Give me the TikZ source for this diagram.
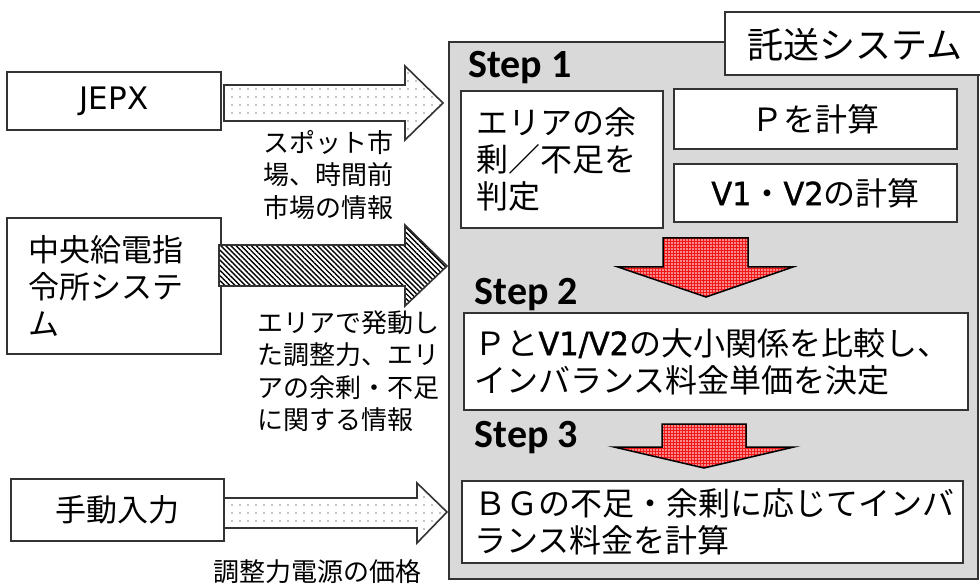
\documentclass[tikz,border=0pt]{standalone}
\usepackage{fontspec}
\setmainfont{Noto Sans CJK JP}
\newfontfamily\lat{DejaVu Sans}
\newfontfamily\latb{DejaVu Sans}[FakeStretch=0.95,FakeBold=1.2]
\newfontfamily\calib{Carlito}
\usetikzlibrary{patterns.meta,calc}
\definecolor{bggray}{HTML}{D9D9D9}
\definecolor{arrred}{HTML}{F01818}
\definecolor{edge}{HTML}{333333}
\newcommand{\vb}[1]{{\latb #1}}
\tikzset{
  box/.style={draw=edge, line width=1.3pt, fill=white, inner sep=0pt, outer sep=0pt, anchor=north west},
  lbl/.style={font=\fontsize{26}{32.5}\selectfont, align=left, inner sep=0pt, anchor=west},
  steplbl/.style={font=\calib\bfseries\fontsize{40}{44}\selectfont, inner sep=0pt, anchor=base west},
  boxtxt/.style={font=\fontsize{32}{37}\selectfont},
  dotarrow/.style={draw=edge, line width=1.6pt, line join=miter, preaction={fill=white}, pattern={Dots[distance=8pt,radius=0.65pt]}, pattern color=black},
  hatcharrow/.style={draw=edge, line width=1.6pt, line join=miter, preaction={fill=white}, pattern={Lines[angle=-45,distance=3.6pt,line width=1.4pt]}, pattern color=black},
  redarrow/.style={draw=black, line width=1.5pt, line join=miter, preaction={fill=arrred}, pattern={Dots[distance=3pt,radius=0.85pt]}, pattern color=white},
}
\begin{document}
\begin{tikzpicture}[x=1pt,y=-1pt]
\useasboundingbox (0,0) rectangle (980,585);
\fill[white] (0,0) rectangle (980,585);

% transmission system frame
\node[box, fill=bggray, draw=edge, line width=1.5pt, minimum width=529pt, minimum height=537pt] (sys) at (449,42) {};
\node[box, minimum width=265pt, minimum height=63pt] (title) at (725,12) {};
\node[font=\fontsize{36}{40}\selectfont, inner sep=0pt] (titletxt) at (855,45) {託送システム};

% Step 1
\node[steplbl] (s1) at (468,78) {Step 1};
\node[box, boxtxt, minimum width=202pt, minimum height=137pt, text width=172pt, inner xsep=15pt, align=left] (area) at (461,91) {エリアの余\\剰／不足を\\判定};
\node[box, boxtxt, minimum width=283pt, minimum height=60pt] (pcalc) at (674,89) {Ｐを計算};
\node[box, boxtxt, minimum width=283pt, minimum height=58pt] (vcalc) at (674,164) {\vb{V1}・\vb{V2}の計算};

% red arrow 1
\draw[redarrow] (663,238) -- (748,238) -- (748,267) -- (793,267) -- (706,297) -- (618,267) -- (663,267) -- cycle;

% Step 2
\node[steplbl] (s2) at (474.5,305) {Step 2};
\node[box, boxtxt, minimum width=504pt, minimum height=97pt, text width=483pt, inner xsep=10.5pt, align=left] (cmp) at (464,313) {Ｐと\vb{V1/V2}の大小関係を比較し、\\インバランス料金単価を決定};

% Step 3
\node[steplbl] (s3) at (474.5,447) {Step 3};
\draw[redarrow] (662,424) -- (746,424) -- (746,447) -- (794,447) -- (704,468) -- (614,447) -- (662,447) -- cycle;
\node[box, boxtxt, minimum width=501pt, minimum height=82pt, text width=476pt, inner xsep=12.5pt, align=left] (bg) at (462,481) {ＢＧの不足・余剰に応じてインバ\\ランス料金を計算};

% left sources
\node[box, minimum width=214pt, minimum height=58pt, font=\lat\fontsize{31}{36}\selectfont] (jepx) at (7,72) {JEPX};
\node[box, minimum width=214pt, minimum height=136pt, text width=172pt, inner xsep=21pt, align=left, font=\fontsize{31}{37}\selectfont] (chuo) at (7,218) {中央給電指\\令所システ\\ム};
\node[box, minimum width=213pt, minimum height=62pt, font=\fontsize{31}{36}\selectfont] (manual) at (11,479) {手動入力};

% block arrows
\draw[dotarrow] (jepx.east) ++(3,-16) coordinate (a1s) -- (405,85) -- (405,66) -- (443,103) coordinate (a1t) -- (405,140) -- (405,121) -- ($(jepx.east)+(3,20)$) -- cycle;
\draw[hatcharrow] ($(chuo.east)+(-2,-41)$) coordinate (a2s) -- (405,245) -- (405,225) -- (447,266) coordinate (a2t) -- (405,306) -- (405,286) -- ($(chuo.east)+(-2,0)$) -- cycle;
\draw[dotarrow] ($(manual.east)+(0,-12)$) coordinate (a3s) -- (417,498) -- (417,483) -- (447,512) coordinate (a3t) -- (417,543) -- (417,528) -- ($(manual.east)+(0,18)$) -- cycle;

% arrow labels
\node[lbl] (l1) at (263,175) {スポット市\\場、時間前\\市場の情報};
\node[lbl] (l2) at (257,371) {エリアで発動し\\た調整力、エリ\\アの余剰・不足\\に関する情報};
\node[lbl, anchor=center] (l3) at (317,572) {調整力電源の価格};
\end{tikzpicture}
\end{document}
